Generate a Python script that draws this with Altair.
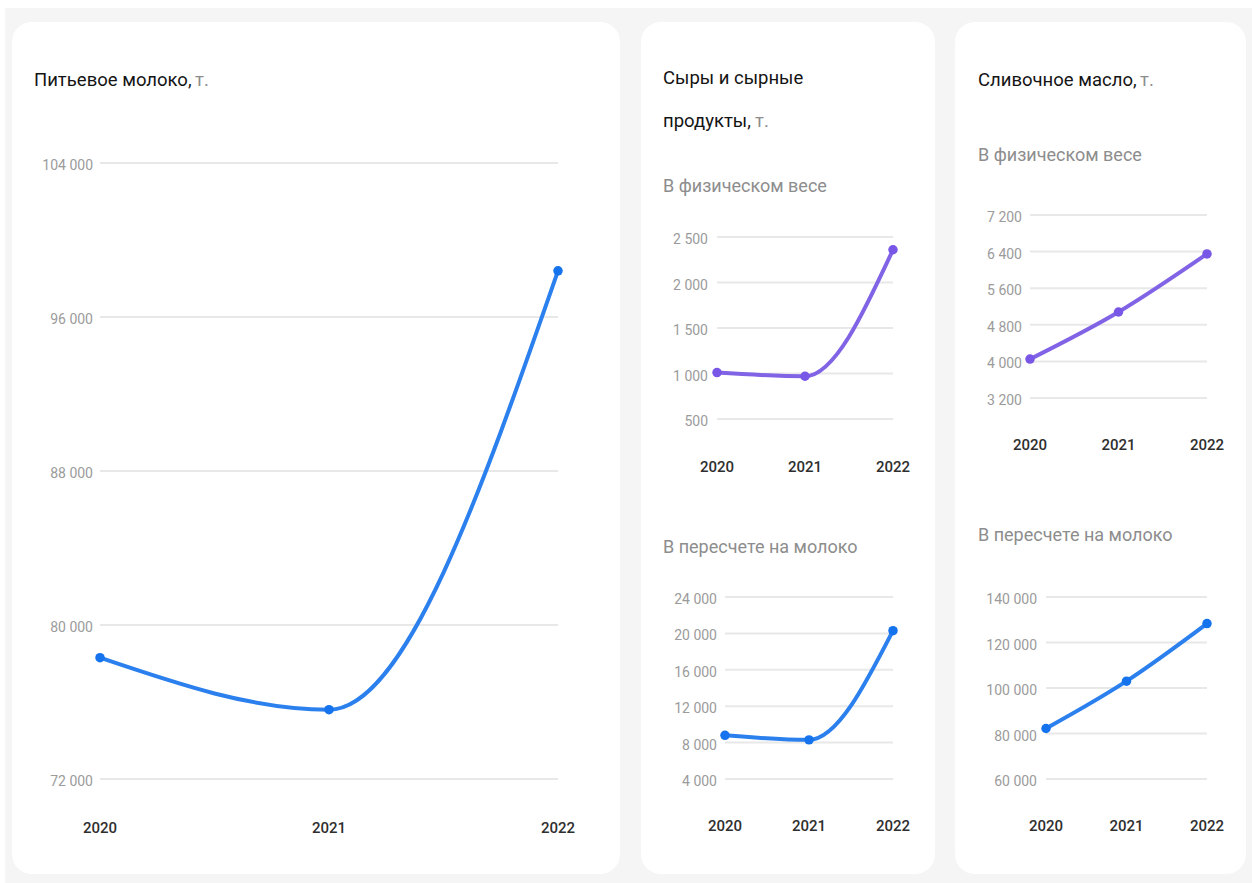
import altair as alt
import pandas as pd

# --- data -------------------------------------------------------------
YEARS = [2020, 2021, 2022]

MILK = [78300, 75600, 98400]            # Питьевое молоко, т.
CHEESE_PHYS = [1010, 970, 2360]         # Сыры, в физическом весе
CHEESE_MILK = [8800, 8300, 20300]       # Сыры, в пересчете на молоко
BUTTER_PHYS = [4050, 5080, 6350]        # Масло, в физическом весе
BUTTER_MILK = [82200, 103000, 128300]   # Масло, в пересчете на молоко

MILK_TICKS = [72000, 80000, 88000, 96000, 104000]
CHEESE_PHYS_TICKS = [500, 1000, 1500, 2000, 2500]
CHEESE_MILK_TICKS = [4000, 8000, 12000, 16000, 20000, 24000]
BUTTER_PHYS_TICKS = [3200, 4000, 4800, 5600, 6400, 7200]
BUTTER_MILK_TICKS = [60000, 80000, 100000, 120000, 140000]

TITLES = ["Питьевое молоко,", "Сыры и сырные", "продукты,", "Сливочное масло,"]
UNIT = "т."
SUBTITLES = ["В физическом весе", "В пересчете на молоко"]

# --- style ------------------------------------------------------------
FONT = "Roboto"
BLUE_LINE, BLUE_DOT = "#2b80ee", "#1673ee"
PURPLE_LINE, PURPLE_DOT = "#8163e6", "#7856e6"
GRID = "#e8e8e8"
TICK_TEXT = "#9b9b9b"
YEAR_TEXT = "#2e2e2e"
W, H = 1252, 883


def fmt(v):
    return f"{v:,}".replace(",", " ")


def panel(values, ticks, xrange, yrange, year_y, color_line, color_dot, label_dx):
    """One small line chart: grid, smooth line, dots and text labels."""
    series = pd.DataFrame({"year": YEARS, "value": values})
    grid = pd.DataFrame({"tick": ticks, "label": [fmt(t) for t in ticks],
                         "x0": YEARS[0], "x1": YEARS[-1]})

    xs = alt.Scale(domain=[YEARS[0], YEARS[-1]], range=xrange, nice=False, zero=False)
    ys = alt.Scale(domain=[ticks[0], ticks[-1]], range=yrange, nice=False, zero=False)

    rules = alt.Chart(grid).mark_rule(color=GRID, strokeWidth=2).encode(
        x=alt.X("x0:Q", scale=xs, axis=None),
        x2="x1:Q",
        y=alt.Y("tick:Q", scale=ys, axis=None),
    )
    ylabels = alt.Chart(grid).mark_text(
        align="right", baseline="middle", dx=label_dx, dy=3,
        font=FONT, fontSize=14, color=TICK_TEXT,
    ).encode(
        x=alt.X("x0:Q", scale=xs, axis=None),
        y=alt.Y("tick:Q", scale=ys, axis=None),
        text="label:N",
    )
    line = alt.Chart(series).mark_line(
        color=color_line, strokeWidth=4, interpolate="monotone"
    ).encode(
        x=alt.X("year:Q", scale=xs, axis=None),
        y=alt.Y("value:Q", scale=ys, axis=None),
    )
    dots = alt.Chart(series).mark_circle(color=color_dot, size=90, opacity=1).encode(
        x=alt.X("year:Q", scale=xs, axis=None),
        y=alt.Y("value:Q", scale=ys, axis=None),
    )
    years = alt.Chart(series).mark_text(
        align="center", baseline="middle", font=FONT, fontSize=15,
        fontWeight=500, color=YEAR_TEXT,
    ).encode(
        x=alt.X("year:Q", scale=xs, axis=None),
        y=alt.value(year_y),
        text="year:N",
    )
    return alt.layer(rules, line, dots, ylabels, years)


def text(label, x, y, color, size=18.5, weight="normal"):
    return alt.Chart(pd.DataFrame({"t": [label]})).mark_text(
        align="left", baseline="middle", font=FONT, fontSize=size,
        fontWeight=weight, color=color,
    ).encode(x=alt.value(x), y=alt.value(y), text="t:N")


def card(x0, x1, y0, y1, fill="white", radius=20):
    return alt.Chart(pd.DataFrame({"c": [0]})).mark_rect(
        fill=fill, cornerRadius=radius
    ).encode(x=alt.value(x0), x2=alt.value(x1), y=alt.value(y0), y2=alt.value(y1))


backdrop = card(5, W, 8, H, fill="#f5f5f5", radius=0)
cards = [card(12, 620, 22, 874), card(641, 935, 22, 874), card(955, 1246, 22, 874)]

TITLE_C, UNIT_C, SUB_C = "#141414", "#8d8d8d", "#8d8d8d"
SUB_SIZE = 18
labels = [
    text(TITLES[0], 34, 80, TITLE_C), text(UNIT, 195, 80, UNIT_C),
    text(TITLES[1], 663, 78, TITLE_C),
    text(TITLES[2], 663, 121, TITLE_C), text(UNIT, 755, 121, UNIT_C),
    text(SUBTITLES[0], 663, 187, SUB_C, SUB_SIZE),
    text(SUBTITLES[1], 663, 548, SUB_C, SUB_SIZE),
    text(TITLES[3], 978, 80, TITLE_C), text(UNIT, 1140, 80, UNIT_C),
    text(SUBTITLES[0], 978, 156, SUB_C, SUB_SIZE),
    text(SUBTITLES[1], 978, 536, SUB_C, SUB_SIZE),
]

panels = [
    panel(MILK, MILK_TICKS, [100, 558], [779, 163], 828, BLUE_LINE, BLUE_DOT, -7),
    panel(CHEESE_PHYS, CHEESE_PHYS_TICKS, [717, 893], [419, 237], 467,
          PURPLE_LINE, PURPLE_DOT, -9),
    panel(CHEESE_MILK, CHEESE_MILK_TICKS, [725, 893], [779, 597], 826,
          BLUE_LINE, BLUE_DOT, -8),
    panel(BUTTER_PHYS, BUTTER_PHYS_TICKS, [1030, 1207], [398, 215], 445,
          PURPLE_LINE, PURPLE_DOT, -8),
    panel(BUTTER_MILK, BUTTER_MILK_TICKS, [1046, 1207], [779, 597], 826,
          BLUE_LINE, BLUE_DOT, -9),
]

chart = alt.layer(backdrop, *cards, *labels, *panels).resolve_scale(
    x="independent", y="independent"
).properties(
    width=W, height=H, padding=0, autosize=alt.AutoSizeParams(type="none"),
    background="white",
).configure_view(stroke=None)

chart.save("out.html", embed_options={"renderer": "svg", "actions": False})
